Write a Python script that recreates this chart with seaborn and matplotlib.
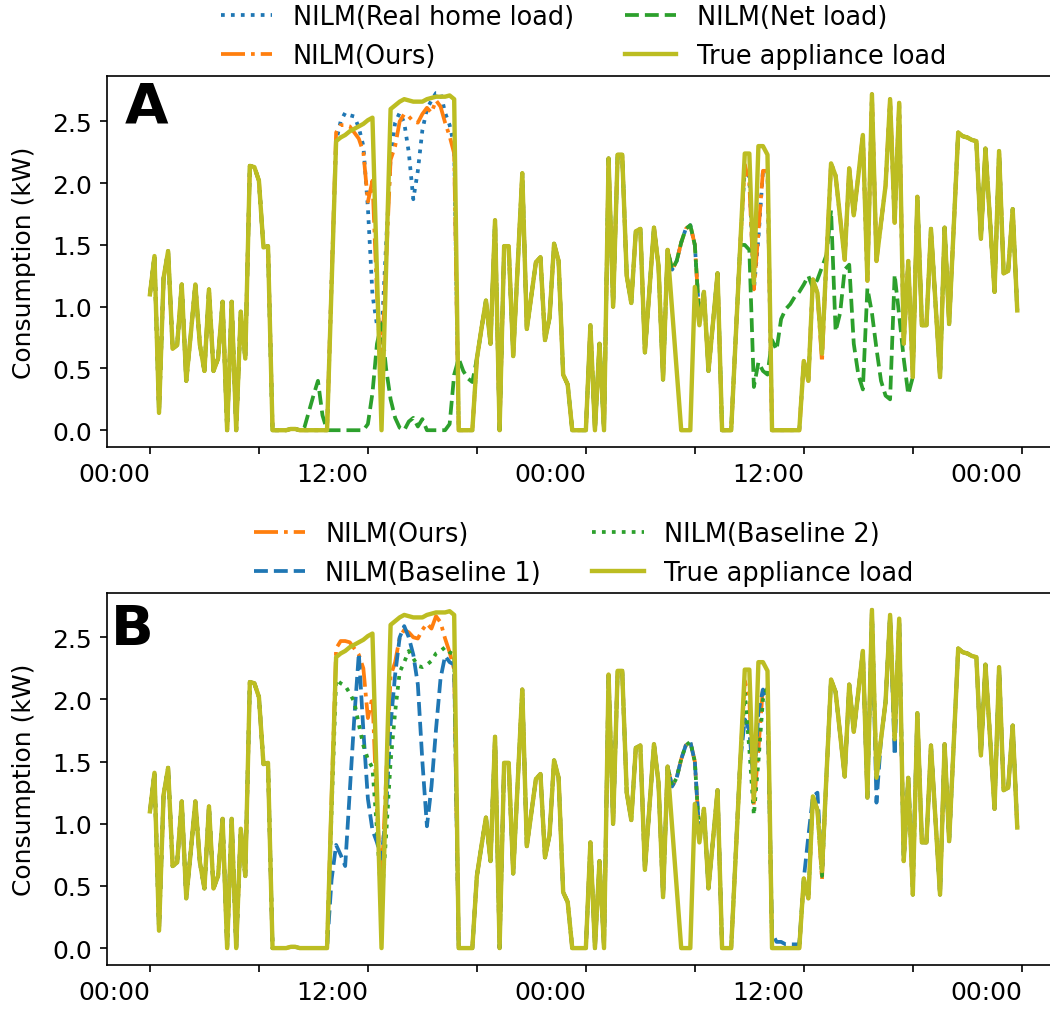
import numpy as np
import pandas as pd
import matplotlib
matplotlib.use("Agg")
import matplotlib.pyplot as plt
import seaborn as sns
from matplotlib.ticker import FixedLocator, FixedFormatter

plt.rcParams['font.family'] = ['DejaVu Sans']
plt.rcParams['font.size'] = 12

# ---------------- data (15-minute samples, kW) ----------------
true_load = [
    1.10, 1.41, 0.14, 1.23, 1.45, 0.66, 0.69, 1.18, 0.40, 0.78,
    1.18, 0.69, 0.48, 1.14, 0.48, 0.58, 1.04, 0.00, 1.04, 0.00,
    0.96, 0.58, 2.14, 2.13, 2.02, 1.48, 1.49, 0.00, 0.00, 0.00,
    0.00, 0.01, 0.01, 0.00, 0.00, 0.00, 0.00, 0.00, 0.00, 0.00,
    1.17, 2.34, 2.37, 2.39, 2.42, 2.44, 2.46, 2.48, 2.51, 2.53,
    1.27, 0.00, 1.30, 2.60, 2.63, 2.66, 2.68, 2.67, 2.66, 2.66,
    2.66, 2.68, 2.69, 2.70, 2.70, 2.70, 2.71, 2.68, 0.00, 0.00,
    0.00, 0.00, 0.58, 0.82, 1.05, 0.70, 1.70, 0.00, 1.49, 1.49,
    0.60, 1.34, 2.08, 0.82, 1.09, 1.36, 1.40, 0.73, 0.91, 1.51,
    1.37, 0.45, 0.37, 0.00, 0.00, 0.00, 0.00, 0.85, 0.00, 0.70,
    0.00, 2.20, 1.00, 2.23, 2.23, 1.25, 1.03, 1.61, 1.63, 0.63,
    1.13, 1.64, 1.33, 0.41, 1.46, 0.97, 0.49, 0.00, 0.00, 0.00,
    1.16, 0.85, 1.12, 0.48, 0.87, 1.27, 0.00, 0.00, 0.00, 0.75,
    1.50, 2.24, 2.24, 1.19, 2.30, 2.30, 2.23, 0.00, 0.00, 0.00,
    0.00, 0.00, 0.00, 0.00, 0.56, 0.40, 1.22, 1.11, 0.62, 1.40,
    2.16, 2.06, 1.72, 1.38, 2.12, 1.74, 2.06, 2.39, 1.21, 2.72,
    1.37, 1.68, 1.98, 2.68, 1.68, 2.65, 0.70, 1.37, 0.43, 1.89,
    0.85, 0.85, 1.63, 1.03, 0.43, 1.64, 0.86, 1.64, 2.41, 2.38,
    2.37, 2.35, 2.34, 1.55, 2.28, 1.70, 1.12, 2.26, 1.27, 1.29,
    1.79, 0.97,
]

# segments where each estimate departs from the true load: (first sample, values)
ours_segments = [
    (40, [1.20, 2.41, 2.47, 2.47, 2.46, 2.41, 2.36, 2.25, 1.85, 2.02,
          1.10, 0.52, 1.35, 2.19, 2.30, 2.50, 2.56, 2.54, 2.50, 2.49,
          2.56, 2.61, 2.57, 2.67, 2.62, 2.49, 2.38, 2.24, 0.00]),
    (114, [1.46, 1.30, 1.37, 1.52, 1.63, 1.66, 1.50, 0.90]),
    (131, [2.15, 2.00, 1.14, 1.60, 2.10, 2.10]),
    (148, [0.55]),
]
real_home_segments = [
    (40, [1.20, 2.34, 2.50, 2.57, 2.55, 2.54, 2.45, 2.30, 1.80, 1.10,
          0.85, 0.76, 1.50, 2.21, 2.49, 2.57, 2.49, 2.25, 1.87, 2.10,
          2.43, 2.60, 2.67, 2.73, 2.73, 2.57, 2.47, 2.30, 0.00]),
    (114, [1.46, 1.30, 1.37, 1.52, 1.63, 1.66, 1.50, 0.90]),
    (131, [2.12, 2.05, 1.14, 1.55, 2.10, 2.10]),
]
net_segments = [
    (33, [0.00, 0.02, 0.15, 0.28, 0.40, 0.12, 0.00, 0.00, 0.00, 0.00,
          0.00, 0.00, 0.00, 0.00, 0.00, 0.05, 0.30, 0.70, 0.86, 0.50,
          0.25, 0.10, 0.02, 0.00, 0.07, 0.10, 0.03, 0.09, 0.00, 0.00,
          0.00, 0.00, 0.00, 0.05, 0.45, 0.58, 0.48, 0.42, 0.39]),
    (114, [1.46, 1.30, 1.37, 1.52, 1.63, 1.66, 1.50, 0.90]),
    (131, [1.50, 1.46, 0.35, 0.55, 0.48, 0.45, 0.73, 0.65, 0.90, 0.98,
           1.02, 1.08, 1.12, 1.18, 1.25, 1.15, 1.22, 1.32, 1.42, 1.78,
           0.80, 0.95, 1.30, 1.34, 0.70, 0.45, 0.33, 1.15, 0.95, 0.66,
           0.40, 0.28, 0.25, 1.26, 0.93, 0.58, 0.29, 0.43]),
]
baseline1_segments = [
    (39, [0.00, 0.55, 0.83, 0.75, 0.66, 1.25, 1.85, 2.37, 1.75, 1.20,
          0.95, 0.85, 0.72, 1.10, 1.80, 2.20, 2.50, 2.59, 2.50, 2.36,
          2.12, 1.50, 0.98, 1.30, 1.76, 2.17, 2.35, 2.30, 2.28, 0.00]),
    (114, [1.46, 1.30, 1.37, 1.52, 1.63, 1.66, 1.50, 0.90]),
    (131, [1.84, 1.75, 1.30, 1.90, 2.08, 2.00, 0.12, 0.05, 0.05, 0.03,
           0.03, 0.03, 0.03, 0.56, 0.90, 1.22, 1.25]),
    (160, [1.17]),
    (164, [1.55]),
    (168, [0.56]),
]
baseline2_segments = [
    (40, [1.10, 2.16, 2.13, 2.11, 2.05, 1.98, 1.80, 1.63, 1.52, 1.45,
          0.95, 0.35, 0.90, 1.50, 1.90, 2.22, 2.30, 2.39, 2.33, 2.27,
          2.26, 2.28, 2.31, 2.37, 2.39, 2.42, 2.38, 2.36, 0.00]),
    (114, [1.46, 1.30, 1.37, 1.52, 1.63, 1.66, 1.50, 0.90]),
    (131, [2.05, 1.60, 1.07, 1.50, 2.00, 2.10]),
    (148, [0.58]),
]

tick_hours = [0, 6, 12, 18, 24, 30, 36, 42, 48]
tick_labels = ["00:00", "", "12:00", "", "00:00", "", "12:00", "", "00:00"]

hours = np.arange(len(true_load)) * 0.25


def with_segments(base, segments):
    s = pd.Series(base, dtype=float)
    for start, vals in segments:
        s.iloc[start:start + len(vals)] = vals
    return s.values


ours = with_segments(true_load, ours_segments)
real_home = with_segments(true_load, real_home_segments)
net = with_segments(true_load, net_segments)
base1 = with_segments(true_load, baseline1_segments)
base2 = with_segments(true_load, baseline2_segments)

C_BLUE, C_ORANGE, C_GREEN, C_OLIVE = "#1f77b4", "#ff7f0e", "#2ca02c", "#bcbd22"
LW_P, LW_T = 1.8, 2.1

fig = plt.figure(figsize=(7.0, 6.753), dpi=150)
axA = fig.add_axes([0.1015, 0.5577, 0.9086, 0.3662])
axB = fig.add_axes([0.1015, 0.0464, 0.9086, 0.3672])

# Panel A
sns.lineplot(x=hours, y=real_home, ax=axA, color=C_BLUE, linestyle=":", linewidth=LW_P,
             label="NILM(Real home load)")
sns.lineplot(x=hours, y=ours, ax=axA, color=C_ORANGE, linestyle="-.", linewidth=LW_P,
             label="NILM(Ours)")
sns.lineplot(x=hours, y=net, ax=axA, color=C_GREEN, linestyle="--", linewidth=LW_P,
             label="NILM(Net load)")
sns.lineplot(x=hours, y=true_load, ax=axA, color=C_OLIVE, linestyle="-", linewidth=LW_T,
             label="True appliance load")

# Panel B
sns.lineplot(x=hours, y=ours, ax=axB, color=C_ORANGE, linestyle="-.", linewidth=LW_P,
             label="NILM(Ours)")
sns.lineplot(x=hours, y=base1, ax=axB, color=C_BLUE, linestyle="--", linewidth=LW_P,
             label="NILM(Baseline 1)")
sns.lineplot(x=hours, y=base2, ax=axB, color=C_GREEN, linestyle=":", linewidth=LW_P,
             label="NILM(Baseline 2)")
sns.lineplot(x=hours, y=true_load, ax=axB, color=C_OLIVE, linestyle="-", linewidth=LW_T,
             label="True appliance load")

for ax, letter, pos in [(axA, "A", (0.019, 0.99)), (axB, "B", (0.005, 0.975))]:
    ax.set_xlabel("")
    ax.set_ylabel("Consumption (kW)", fontsize=12, labelpad=7.5)
    ax.xaxis.set_major_locator(FixedLocator(tick_hours))
    ax.xaxis.set_major_formatter(FixedFormatter(tick_labels))
    ax.set_yticks([0.0, 0.5, 1.0, 1.5, 2.0, 2.5])
    ax.tick_params(labelsize=12)
    for lab in ax.get_xticklabels():
        lab.set_horizontalalignment("right")
    ax.legend(ncol=2, loc="lower center", bbox_to_anchor=(0.5, 0.957), frameon=False,
              fontsize=12.3)
    ax.text(pos[0], pos[1], letter, transform=ax.transAxes, fontsize=27,
            fontweight="bold", ha="left", va="top")

fig.savefig("out.png", dpi=150)
